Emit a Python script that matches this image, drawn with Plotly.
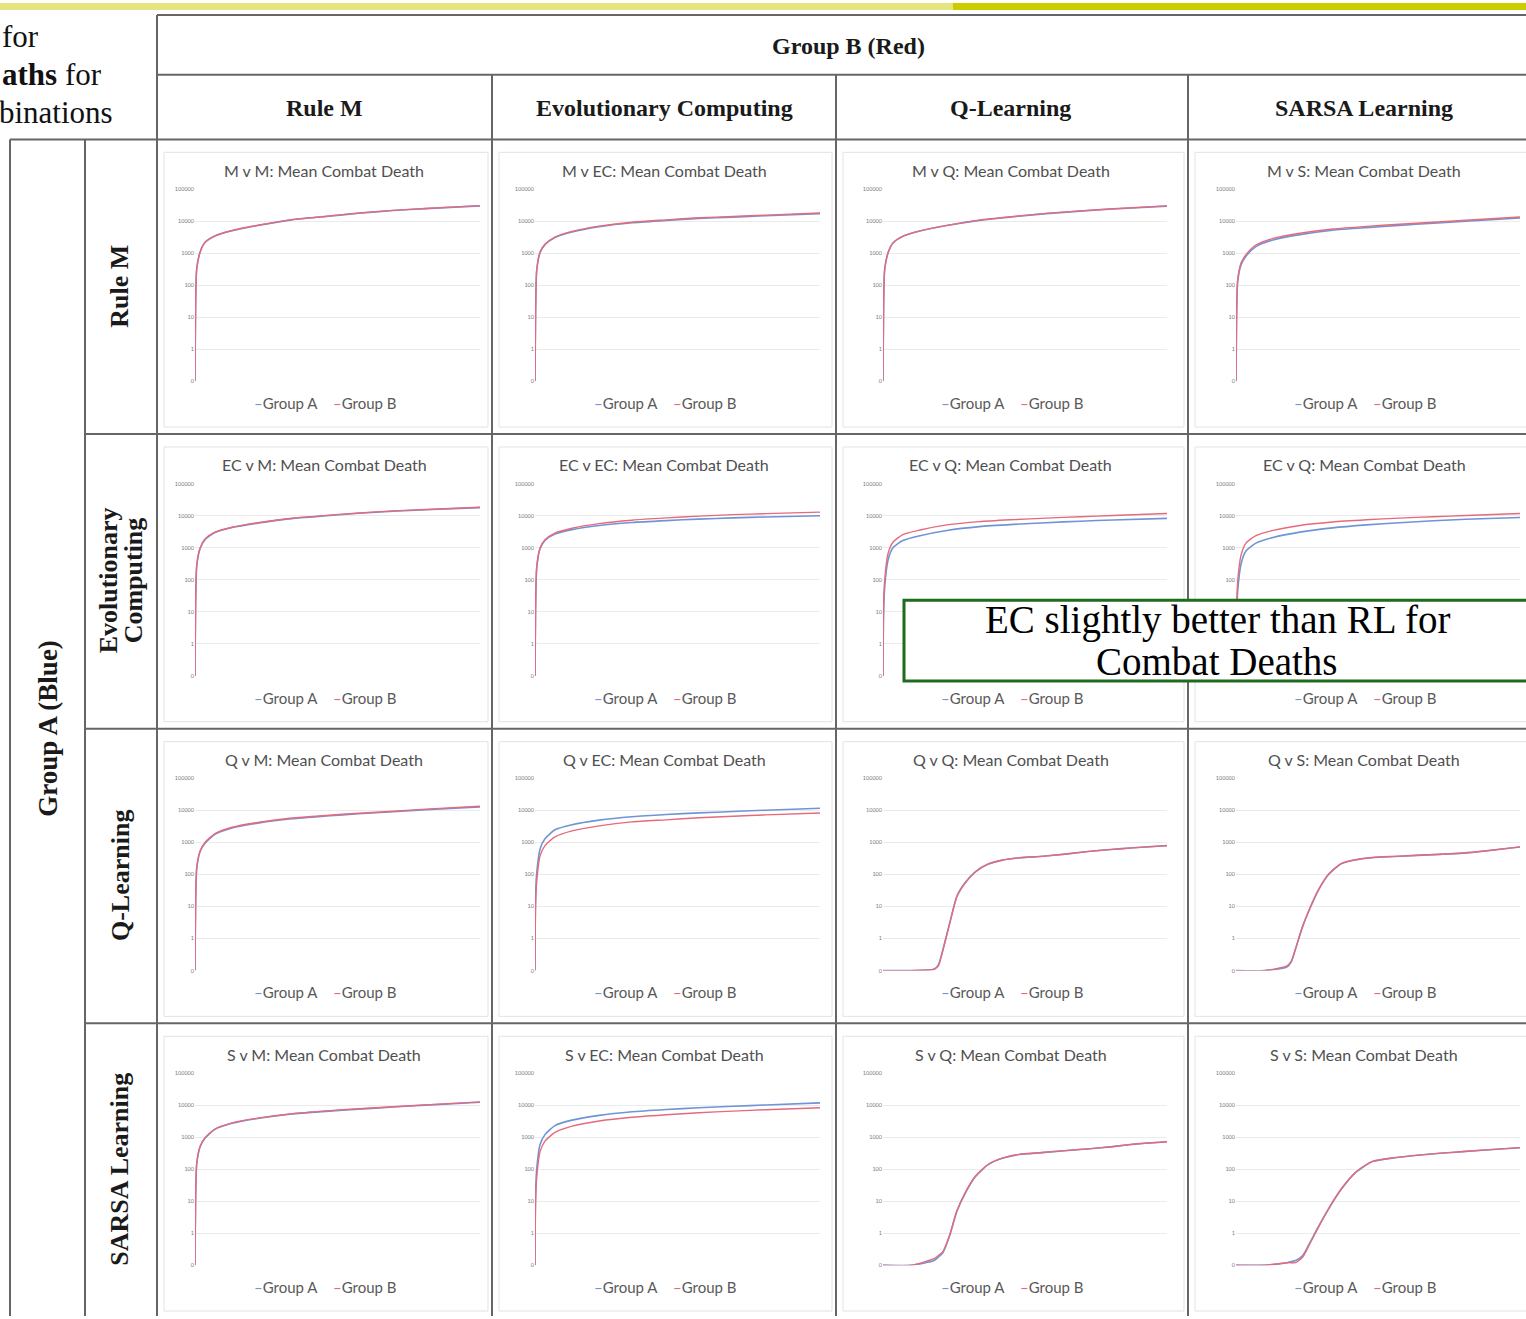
import plotly.graph_objects as go

W, H = 1526, 1319

# ---------------- data ----------------
steps_fast = [0, 2, 6, 18, 35, 70, 130, 225, 340, 460, 575, 695, 810, 1000]
steps_slow = [0, 100, 180, 195, 210, 235, 260, 290, 325, 370, 420, 480, 560, 640, 720, 800, 880, 1000]

# Row: Group A = Rule M
mvm_a = [0.1, 18, 320, 1080, 2150, 3450, 5000, 7500, 11000, 14000, 17700, 21500, 24700, 30000]
mvm_b = [0.1, 19, 330, 1100, 2200, 3500, 5100, 7600, 11200, 14200, 18000, 21800, 25000, 30500]
mvec_a = [0.1, 11, 280, 1050, 1850, 3100, 4600, 6700, 8900, 10500, 12200, 13400, 14800, 17200]
mvec_b = [0.1, 12, 300, 1100, 1900, 3200, 4800, 7000, 9300, 11000, 12800, 14000, 15500, 18000]
mvq_a = [0.1, 17, 310, 1030, 2050, 3350, 4900, 7300, 10600, 13800, 17200, 20600, 24000, 29500]
mvq_b = [0.1, 18, 320, 1050, 2100, 3400, 5000, 7400, 10800, 14000, 17500, 21000, 24500, 30000]
mvs_a = [0.1, 9, 130, 440, 800, 1600, 2600, 3800, 5200, 6300, 7400, 8600, 9900, 12500]
mvs_b = [0.1, 10, 150, 500, 900, 1800, 2900, 4200, 5700, 6900, 8000, 9300, 10700, 13500]

# Row: Group A = Evolutionary Computing
ecvm_a = [0.1, 14, 260, 950, 1800, 3000, 4300, 6000, 8200, 10000, 12000, 13900, 15400, 18000]
ecvm_b = [0.1, 15, 280, 1000, 1900, 3100, 4400, 6200, 8400, 10300, 12300, 14300, 15800, 18500]
ecvec_a = [0.1, 11, 230, 950, 1700, 2700, 3700, 5000, 6200, 7100, 7900, 8600, 9200, 10000]
ecvec_b = [0.1, 12, 250, 1000, 1800, 2900, 4100, 5700, 7300, 8600, 9800, 10900, 11700, 13000]
ecvq_a = [0.1, 8, 60, 420, 1000, 1700, 2400, 3500, 4600, 5400, 6100, 6800, 7400, 8300]
ecvq_b = [0.1, 15, 100, 680, 1500, 2600, 3600, 5200, 6600, 7600, 8500, 9400, 10200, 11800]
ecvs_a = [0.1, 6, 45, 320, 800, 1400, 2100, 3100, 4200, 5200, 6100, 7000, 7800, 8900]
ecvs_b = [0.1, 12, 90, 600, 1400, 2400, 3500, 5000, 6400, 7500, 8500, 9400, 10200, 11800]

# Row: Group A = Q-Learning
qvm_a = [0.1, 10, 150, 520, 950, 1800, 2850, 4100, 5500, 6700, 7900, 9100, 10500, 13000]
qvm_b = [0.1, 10, 160, 550, 1000, 1900, 3000, 4300, 5800, 7000, 8200, 9500, 11000, 13500]
qvec_a = [0.1, 20, 110, 640, 1300, 2500, 3600, 5000, 6400, 7500, 8400, 9300, 10200, 11700]
qvec_b = [0.1, 10, 60, 390, 800, 1500, 2300, 3300, 4400, 5100, 5900, 6600, 7300, 8300]
qvq_a = [0.1, 0.1, 0.11, 0.15, 0.42, 3.1, 21, 57, 122, 212, 282, 332, 372, 432, 522, 602, 682, 800]
qvq_b = [0.1, 0.1, 0.11, 0.14, 0.4, 3, 20, 55, 120, 210, 280, 330, 370, 430, 520, 600, 680, 800]
qvs_a = [0.1, 0.1, 0.13, 0.19, 0.48, 2.4, 8.5, 32, 98, 215, 285, 335, 365, 395, 425, 465, 545, 720]
qvs_b = [0.1, 0.1, 0.14, 0.2, 0.5, 2.5, 9, 33, 100, 220, 290, 340, 370, 400, 430, 470, 550, 730]

# Row: Group A = SARSA Learning
svm_a = [0.1, 10, 140, 500, 920, 1750, 2700, 3900, 5300, 6400, 7500, 8700, 10000, 12300]
svm_b = [0.1, 10, 150, 520, 950, 1800, 2800, 4000, 5400, 6600, 7700, 8900, 10200, 12600]
svec_a = [0.1, 15, 100, 600, 1200, 2300, 3400, 4800, 6200, 7300, 8300, 9200, 10100, 11800]
svec_b = [0.1, 9, 55, 360, 750, 1400, 2200, 3200, 4200, 5000, 5800, 6500, 7200, 8300]
svq_a = [0.1, 0.1, 0.14, 0.18, 0.24, 0.85, 4.8, 18, 58, 138, 218, 288, 328, 378, 428, 498, 598, 715]
svq_b = [0.1, 0.1, 0.16, 0.2, 0.26, 0.9, 5, 19, 60, 140, 220, 290, 330, 380, 430, 500, 600, 720]
svs_a = [0.1, 0.1, 0.12, 0.13, 0.14, 0.2, 0.5, 1.6, 5.5, 23, 77, 172, 228, 273, 314, 353, 398, 468]
svs_b = [0.1, 0.1, 0.12, 0.12, 0.12, 0.18, 0.47, 1.5, 5.7, 24, 79, 175, 230, 275, 316, 355, 400, 470]

tick_vals = [0.1, 1, 10, 100, 1000, 10000, 100000]
tick_text = ["0", "1", "10", "100", "1000", "10000", "100000"]
# in the last chart of row 2 the lower tick labels are hidden behind the callout box
tick_text_covered = ["", "", "", "100", "1000", "10000", "100000"]

header_top = "Group B (Red)"
side_label = "Group A (Blue)"
col_labels = ["Rule M", "Evolutionary Computing", "Q-Learning", "SARSA Learning"]
row_labels = [["Rule M"], ["Evolutionary", "Computing"], ["Q-Learning"], ["SARSA Learning"]]
chart_titles = [
    ["M v M", "M v EC", "M v Q", "M v S"],
    ["EC v M", "EC v EC", "EC v Q", "EC v Q"],
    ["Q v M", "Q v EC", "Q v Q", "Q v S"],
    ["S v M", "S v EC", "S v Q", "S v S"],
]
series_names = ["Group A", "Group B"]
callout_lines = ["EC slightly better than RL for", "Combat Deaths"]

charts = [
    [(steps_fast, mvm_a, mvm_b), (steps_fast, mvec_a, mvec_b), (steps_fast, mvq_a, mvq_b), (steps_fast, mvs_a, mvs_b)],
    [(steps_fast, ecvm_a, ecvm_b), (steps_fast, ecvec_a, ecvec_b), (steps_fast, ecvq_a, ecvq_b), (steps_fast, ecvs_a, ecvs_b)],
    [(steps_fast, qvm_a, qvm_b), (steps_fast, qvec_a, qvec_b), (steps_slow, qvq_a, qvq_b), (steps_slow, qvs_a, qvs_b)],
    [(steps_fast, svm_a, svm_b), (steps_fast, svec_a, svec_b), (steps_slow, svq_a, svq_b), (steps_slow, svs_a, svs_b)],
]

# ---------------- layout geometry (pixels) ----------------
BLUE = "#6F95D6"
RED = "#E66A7A"
GRID = "#666666"

col_edges = [157, 492, 836, 1188, 1540]
row_edges = [137, 433, 729, 1025, 1321]
plot_x = [(195, 480), (535, 820), (883, 1167), (1236, 1520)]
col_centers = [324, 664, 1011, 1364]


def px(x):
    return x / W


def py(y):
    return 1 - y / H


fig = go.Figure()
layout = dict(
    width=W, height=H, margin=dict(l=0, r=0, t=0, b=0),
    paper_bgcolor="white", plot_bgcolor="white", showlegend=False,
)
shapes = []
annotations = []

# top bars
shapes.append(dict(type="rect", xref="paper", yref="paper", x0=px(0), x1=px(953), y0=py(7), y1=py(0),
                   fillcolor="#E5E580", line=dict(width=0), layer="below"))
shapes.append(dict(type="rect", xref="paper", yref="paper", x0=px(953), x1=px(W), y0=py(7), y1=py(0),
                   fillcolor="#CCCC00", line=dict(width=0), layer="below"))

idx = 0
for r in range(4):
    top = row_edges[r]
    y0p, y1p = top + 50, top + 243
    for c in range(4):
        idx += 1
        steps, a_vals, b_vals = charts[r][c]
        xa = "x" if idx == 1 else f"x{idx}"
        ya = "y" if idx == 1 else f"y{idx}"
        x0p, x1p = plot_x[c]
        # faint chart-area border
        shapes.append(dict(type="rect", xref="paper", yref="paper",
                           x0=px(col_edges[c] + 7), x1=px(col_edges[c + 1] - 4),
                           y0=py(top + 289), y1=py(top + 13),
                           line=dict(color="#E3E3E3", width=1), layer="below"))
        fig.add_trace(go.Scatter(x=steps, y=a_vals, mode="lines", name=series_names[0],
                                 line=dict(color=BLUE, width=1.6, shape="spline", smoothing=0.6),
                                 xaxis=xa, yaxis=ya, hoverinfo="skip"))
        fig.add_trace(go.Scatter(x=steps, y=b_vals, mode="lines", name=series_names[1],
                                 line=dict(color=RED, width=1.4, shape="spline", smoothing=0.6),
                                 xaxis=xa, yaxis=ya, hoverinfo="skip"))
        kx = "xaxis" if idx == 1 else f"xaxis{idx}"
        ky = "yaxis" if idx == 1 else f"yaxis{idx}"
        ttext = tick_text_covered if (r == 1 and c == 3) else tick_text
        layout[kx] = dict(domain=[px(x0p), px(x1p)], range=[0, 1000], anchor=ya,
                          showgrid=False, showticklabels=False, zeroline=False, showline=False,
                          fixedrange=True)
        layout[ky] = dict(domain=[py(y1p), py(y0p)], type="log", range=[-1, 5], anchor=xa,
                          tickvals=tick_vals, ticktext=ttext,
                          tickfont=dict(size=5.5, color="#7A7A7A", family="Lato"),
                          showgrid=True, gridcolor="#EBEBEB", gridwidth=1,
                          zeroline=False, showline=False, ticks="", fixedrange=True)
        # chart title
        annotations.append(dict(xref="paper", yref="paper", x=px(col_centers[c]), y=py(top + 31),
                                text=f"{chart_titles[r][c]}: Mean Combat Death", showarrow=False,
                                xanchor="center", yanchor="middle",
                                font=dict(family="Lato", size=16, color="#505050")))
        # legend entries
        annotations.append(dict(xref="paper", yref="paper", x=px(col_centers[c] - 38), y=py(top + 265),
                                text=f'<span style="color:{BLUE}">–</span>{series_names[0]}',
                                showarrow=False, xanchor="center", yanchor="middle",
                                font=dict(family="Lato", size=15, color="#595959")))
        annotations.append(dict(xref="paper", yref="paper", x=px(col_centers[c] + 41), y=py(top + 265),
                                text=f'<span style="color:{RED}">–</span>{series_names[1]}',
                                showarrow=False, xanchor="center", yanchor="middle",
                                font=dict(family="Lato", size=15, color="#595959")))


def hline(y, x0, x1):
    shapes.append(dict(type="line", xref="paper", yref="paper", x0=px(x0), x1=px(x1), y0=py(y), y1=py(y),
                       line=dict(color=GRID, width=2), layer="above"))


def vline(x, y0, y1):
    shapes.append(dict(type="line", xref="paper", yref="paper", x0=px(x), x1=px(x), y0=py(y0), y1=py(y1),
                       line=dict(color=GRID, width=2), layer="above"))


# table lines
hline(12, 157, W)
hline(72, 157, W)
hline(137, 10, W)
for y in [433, 729, 1025]:
    hline(y, 85, W)
vline(157, 12, H)
for x in [492, 836, 1188]:
    vline(x, 72, H)
vline(10, 137, H)
vline(85, 137, H)

# headers
hfont = dict(family="Liberation Serif", size=24, color="#1A1A1A")
annotations.append(dict(xref="paper", yref="paper", x=px(848), y=py(43), text=f"<b>{header_top}</b>",
                        showarrow=False, xanchor="center", yanchor="middle", font=hfont))
for c in range(4):
    annotations.append(dict(xref="paper", yref="paper", x=px(col_centers[c]), y=py(105),
                            text=f"<b>{col_labels[c]}</b>", showarrow=False,
                            xanchor="center", yanchor="middle", font=hfont))

rfont = dict(family="Liberation Serif", size=26, color="#1A1A1A")
row_centers = [285, 580, 877, 1172]
for r in range(4):
    lines = row_labels[r]
    if len(lines) == 1:
        xs = [120]
    else:
        xs = [108, 133]
    for ln, xx in zip(lines, xs):
        annotations.append(dict(xref="paper", yref="paper", x=px(xx), y=py(row_centers[r]),
                                text=f"<b>{ln}</b>", showarrow=False, textangle=-90,
                                xanchor="center", yanchor="middle", font=rfont))
annotations.append(dict(xref="paper", yref="paper", x=px(48), y=py(728), text=f"<b>{side_label}</b>",
                        showarrow=False, textangle=-90, xanchor="center", yanchor="middle",
                        font=dict(family="Liberation Serif", size=27, color="#1A1A1A")))

# clipped slide title fragments at top-left
tfont = dict(family="Liberation Serif", size=31, color="#111111")
annotations.append(dict(xref="paper", yref="paper", x=px(0), y=py(34), text="for",
                        showarrow=False, xanchor="left", yanchor="middle", font=tfont))
annotations.append(dict(xref="paper", yref="paper", x=px(0), y=py(72), text="<b>aths</b> for",
                        showarrow=False, xanchor="left", yanchor="middle", font=tfont))
annotations.append(dict(xref="paper", yref="paper", x=px(-3), y=py(110), text="binations",
                        showarrow=False, xanchor="left", yanchor="middle", font=tfont))

# callout box
shapes.append(dict(type="rect", xref="paper", yref="paper", x0=px(904), x1=px(1534), y0=py(681), y1=py(600),
                   fillcolor="white", line=dict(color="#1F6B1F", width=3), layer="above"))
cfont = dict(family="Liberation Serif", size=39, color="#000000")
annotations.append(dict(xref="paper", yref="paper", x=px(1217), y=py(620), text=callout_lines[0],
                        showarrow=False, xanchor="center", yanchor="middle", font=cfont))
annotations.append(dict(xref="paper", yref="paper", x=px(1217), y=py(662), text=callout_lines[1],
                        showarrow=False, xanchor="center", yanchor="middle", font=cfont))

layout["shapes"] = shapes
layout["annotations"] = annotations
fig.update_layout(**layout)
fig.write_html("out.html")
